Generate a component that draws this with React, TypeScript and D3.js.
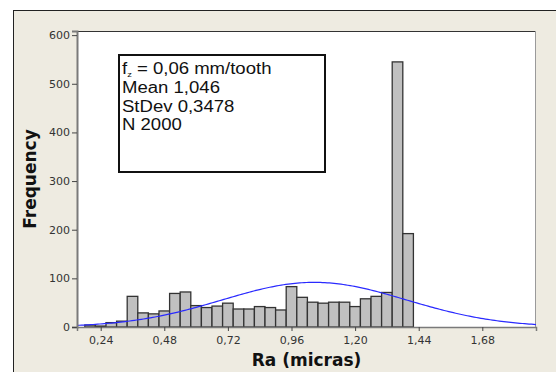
import { useEffect, useRef } from "react";
import * as d3 from "d3";

// bin midpoints (Ra, micras) and their counts
const binMids = [0.2, 0.24, 0.28, 0.32, 0.36, 0.4, 0.44, 0.48, 0.52, 0.56, 0.6, 0.64, 0.68, 0.72, 0.76, 0.8, 0.84, 0.88, 0.92, 0.96, 1.0, 1.04, 1.08, 1.12, 1.16, 1.2, 1.24, 1.28, 1.32, 1.36, 1.4];
const counts = [4, 2, 9, 12, 63, 29, 27, 33, 69, 72, 44, 40, 43, 49, 37, 37, 42, 40, 35, 83, 61, 51, 49, 51, 51, 42, 58, 63, 71, 545, 192];
const binWidth = 0.04;

const xTicks = [0.24, 0.48, 0.72, 0.96, 1.2, 1.44, 1.68];
const yTicks = [0, 100, 200, 300, 400, 500, 600];

// fitted normal stats shown in the box
const fitMean = 1.046;
const fitStDev = 0.3478;
const fitN = 2000;
const statLines = ["Mean 1,046", "StDev 0,3478", "N 2000"];

export default function App() {
    const ref = useRef<SVGSVGElement>(null);

    useEffect(() => {
        if (!ref.current) return;
        const svg = d3.select(ref.current);
        svg.selectAll("*").remove();

        const W = 556;
        const H = 372;
        const plot = { left: 77, right: 536, top: 31, bottom: 327 };

        // outer frame
        svg.append("rect").attr("width", W).attr("height", H).attr("fill", "#fff");
        svg.append("rect")
            .attr("x", 13.5).attr("y", 10.5)
            .attr("width", 600).attr("height", 400)
            .attr("fill", "#eeebe1")
            .attr("stroke", "#222").attr("stroke-width", 1);

        const x = d3.scaleLinear().domain([0.1506, 1.8826]).range([plot.left, plot.right]);
        const y = d3.scaleLinear().domain([0, 608.5]).range([plot.bottom, plot.top]);

        // plot area
        svg.append("rect")
            .attr("x", plot.left).attr("y", plot.top)
            .attr("width", plot.right - plot.left).attr("height", plot.bottom - plot.top)
            .attr("fill", "#fff");
        svg.append("line")
            .attr("x1", plot.left).attr("x2", plot.right)
            .attr("y1", plot.top + 0.5).attr("y2", plot.top + 0.5)
            .attr("stroke", "#333");
        svg.append("line")
            .attr("x1", plot.right - 0.5).attr("x2", plot.right - 0.5)
            .attr("y1", plot.top).attr("y2", plot.bottom)
            .attr("stroke", "#9a9a9a");

        // bars
        svg.append("g")
            .selectAll("rect")
            .data(binMids)
            .join("rect")
            .attr("x", (d) => x(d - binWidth / 2))
            .attr("y", (_, i) => y(counts[i]))
            .attr("width", (d) => x(d + binWidth / 2) - x(d - binWidth / 2))
            .attr("height", (_, i) => y(0) - y(counts[i]))
            .attr("fill", "#c0c0c0")
            .attr("stroke", "#333")
            .attr("stroke-width", 1.3);

        // fitted normal curve
        const scale = (fitN * binWidth) / (fitStDev * Math.sqrt(2 * Math.PI));
        const xs = d3.range(0, 201).map((i) => x.domain()[0] + (i / 200) * (x.domain()[1] - x.domain()[0]));
        const line = d3.line<number>()
            .x((d) => x(d))
            .y((d) => y(scale * Math.exp(-0.5 * ((d - fitMean) / fitStDev) ** 2)));
        svg.append("path")
            .datum(xs)
            .attr("d", line)
            .attr("fill", "none")
            .attr("stroke", "#2a2aff")
            .attr("stroke-width", 1.2);

        // axes
        const yAxis = svg.append("g")
            .attr("transform", `translate(${plot.left},0)`)
            .call(d3.axisLeft(y).tickValues(yTicks).tickSize(5).tickPadding(2).tickFormat(d3.format("d")))
            .attr("font-family", "DejaVu Sans")
            .attr("font-size", 11);
        yAxis.select(".domain").attr("stroke", "#7a7a7a").attr("stroke-width", 2);
        yAxis.selectAll(".tick line").attr("stroke", "#444");
        yAxis.selectAll(".tick text").attr("fill", "#333");

        const xAxis = svg.append("g")
            .attr("transform", `translate(0,${plot.bottom})`)
            .call(d3.axisBottom(x).tickValues(xTicks).tickSize(4).tickPadding(5)
                .tickFormat((d) => d3.format(".2f")(d as number).replace(".", ",")))
            .attr("font-family", "DejaVu Sans")
            .attr("font-size", 11);
        xAxis.select(".domain").attr("stroke", "#7a7a7a").attr("stroke-width", 1.5);
        xAxis.selectAll(".tick line").attr("stroke", "#444");
        xAxis.selectAll(".tick text").attr("fill", "#333");

        // axis titles
        svg.append("text")
            .attr("x", (plot.left + plot.right) / 2)
            .attr("y", 366)
            .attr("text-anchor", "middle")
            .style("font-family", "DejaVu Sans")
            .style("font-weight", "bold")
            .style("font-size", "17px")
            .attr("fill", "#111")
            .text("Ra (micras)");
        svg.append("text")
            .attr("transform", `translate(36,${(plot.top + plot.bottom) / 2}) rotate(-90)`)
            .attr("text-anchor", "middle")
            .style("font-family", "DejaVu Sans")
            .style("font-weight", "bold")
            .style("font-size", "17px")
            .attr("fill", "#111")
            .text("Frequency");

        // stats box
        svg.append("rect")
            .attr("x", 119).attr("y", 55)
            .attr("width", 206).attr("height", 117)
            .attr("fill", "#fff")
            .attr("stroke", "#111").attr("stroke-width", 2);
        const box = svg.append("g")
            .attr("transform", "translate(122,0) scale(1.16,1)")
            .style("font-family", "Liberation Sans")
            .style("font-size", "16px")
            .attr("fill", "#111");
        const first = box.append("text").attr("x", 0).attr("y", 74);
        first.append("tspan").text("f");
        first.append("tspan").attr("dy", 3).style("font-size", "8px").text("z");
        first.append("tspan").attr("dy", -3).text(" = 0,06 mm/tooth");
        statLines.forEach((s, i) => {
            box.append("text").attr("x", 0).attr("y", 93 + i * 18.7).text(s);
        });
    }, []);

    return (
        <svg
            ref={ref}
            width={556}
            height={372}
            style={{ position: "fixed", left: 0, top: 0, display: "block" }}
        />
    );
}
